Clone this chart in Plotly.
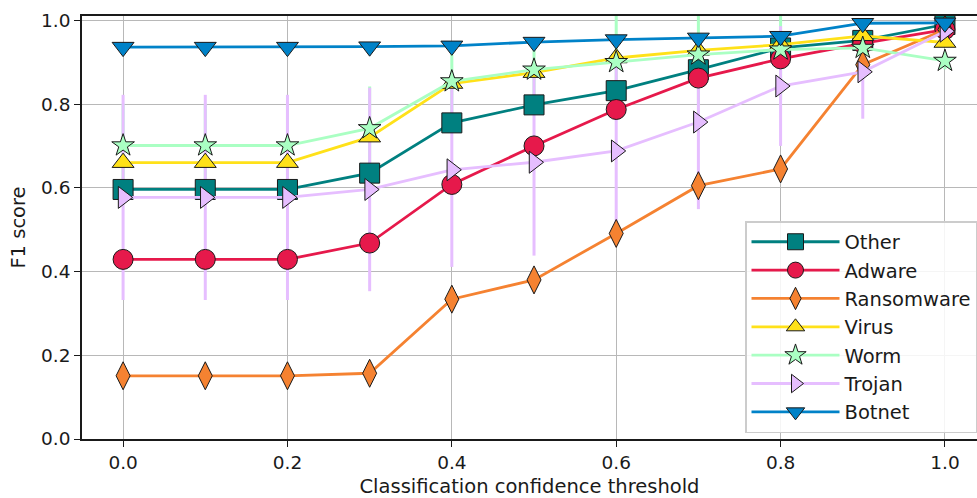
import plotly.graph_objects as go

# Confidence thresholds evaluated
thresholds = [0.0, 0.1, 0.2, 0.3, 0.4, 0.5, 0.6, 0.7, 0.8, 0.9, 1.0]

# Mean F1 score per malware family at each threshold
f1_other = [0.596, 0.596, 0.596, 0.635, 0.755, 0.798, 0.832, 0.882, 0.934, 0.952, 0.990]
f1_adware = [0.429, 0.429, 0.429, 0.468, 0.608, 0.700, 0.787, 0.862, 0.908, 0.945, 0.978]
f1_ransomware = [0.151, 0.151, 0.151, 0.157, 0.334, 0.380, 0.491, 0.605, 0.645, 0.894, 0.978]
f1_virus = [0.660, 0.660, 0.660, 0.721, 0.849, 0.875, 0.910, 0.928, 0.942, 0.963, 0.947]
f1_worm = [0.701, 0.701, 0.701, 0.742, 0.854, 0.882, 0.900, 0.918, 0.930, 0.934, 0.903]
f1_trojan = [0.577, 0.577, 0.577, 0.596, 0.643, 0.661, 0.688, 0.757, 0.843, 0.877, 0.974]
f1_botnet = [0.936, 0.936, 0.936, 0.937, 0.939, 0.948, 0.954, 0.958, 0.962, 0.993, 0.994]

# Standard deviation across folds (only visible for worm and trojan)
std_worm = [0.10, 0.10, 0.10, 0.10, 0.08, 0.07, 0.12, 0.12, 0.12, 0.04, 0.02]
std_trojan = [0.245, 0.245, 0.245, 0.243, 0.232, 0.223, 0.20, 0.208, 0.143, 0.112, 0.02]

families = ["Other", "Adware", "Ransomware", "Virus", "Worm", "Trojan", "Botnet"]
scores = [f1_other, f1_adware, f1_ransomware, f1_virus, f1_worm, f1_trojan, f1_botnet]
errors = [None, None, None, None, std_worm, std_trojan, None]
colors = ["#008080", "#e6194b", "#f58231", "#ffe119", "#aaffc3", "#e6beff", "#0082c8"]
symbols = ["square", "circle", "diamond-tall", "triangle-up", "star", "triangle-right", "triangle-down"]
sizes = [20, 20, 20, 19, 17, 19, 19]

FONT = "DejaVu Sans"

fig = go.Figure()

# Error bars sit underneath every line and marker
for name, ys, err, col in zip(families, scores, errors, colors):
    if err is None:
        continue
    fig.add_trace(go.Scatter(
        x=thresholds, y=ys, mode="markers",
        marker=dict(size=1, opacity=0),
        error_y=dict(type="data", array=err, visible=True, color=col,
                     thickness=3, width=0),
        showlegend=False, hoverinfo="skip",
    ))

for name, ys, col, sym, sz in zip(families, scores, colors, symbols, sizes):
    fig.add_trace(go.Scatter(
        x=thresholds, y=ys, name=name, mode="lines+markers",
        line=dict(color=col, width=2.8),
        marker=dict(symbol=sym, size=sz, color=col,
                    line=dict(color="#1a1a1a", width=1)),
    ))

axis_common = dict(
    showgrid=True, gridcolor="#b8b8b8", gridwidth=1.4,
    zeroline=False, showline=True, linecolor="#1a1a1a", linewidth=1.6,
    ticks="outside", ticklen=6, tickwidth=1.4, tickcolor="#1a1a1a",
    tickfont=dict(family=FONT, size=18.5, color="#1a1a1a"),
)

fig.update_layout(
    width=977, height=498,
    margin=dict(l=82, r=0, t=16, b=59),
    paper_bgcolor="white", plot_bgcolor="white",
    font=dict(family=FONT, color="#1a1a1a"),
    xaxis=dict(
        range=[-0.05, 1.039], tickvals=[0.0, 0.2, 0.4, 0.6, 0.8, 1.0],
        ticktext=["0.0", "0.2", "0.4", "0.6", "0.8", "1.0"],
        mirror=True,
        title=dict(text="Classification confidence threshold",
                   font=dict(family=FONT, size=19.5), standoff=9),
        **axis_common,
    ),
    yaxis=dict(
        range=[0, 1.0103], tickvals=[0.0, 0.2, 0.4, 0.6, 0.8, 1.0],
        ticktext=["0.0", "0.2", "0.4", "0.6", "0.8", "1.0"],
        title=dict(text="F1 score", font=dict(family=FONT, size=19.5), standoff=10),
        **axis_common,
    ),
    legend=dict(
        x=1, xanchor="right", y=0.014, yanchor="bottom",
        bgcolor="rgba(255,255,255,0.85)", bordercolor="#cccccc", borderwidth=1.5,
        font=dict(family=FONT, size=19.5, color="#1a1a1a"),
        itemwidth=88, tracegroupgap=0,
    ),
    showlegend=True,
)

fig.write_html("out.html")
